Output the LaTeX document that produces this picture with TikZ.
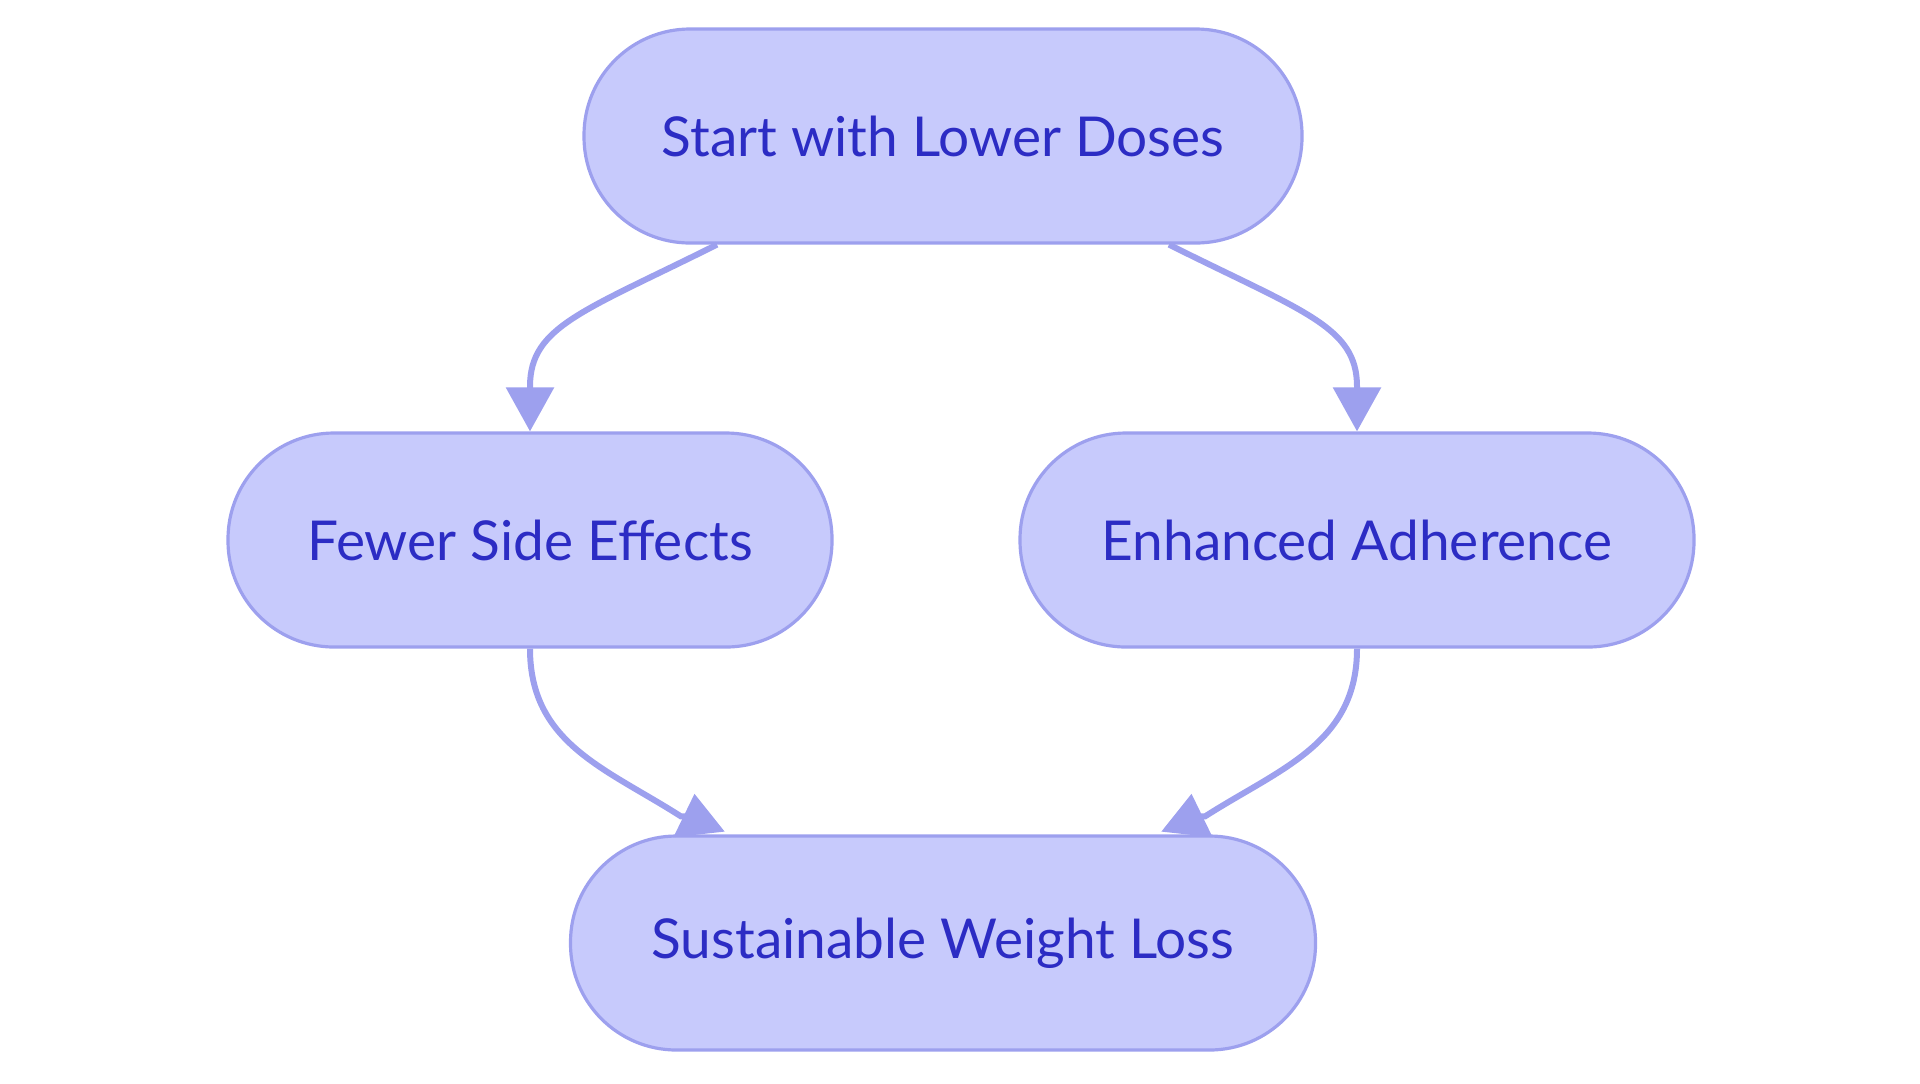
\documentclass[tikz,border=0pt]{standalone}
\usepackage{fontspec}
\setmainfont{Lato}
\usetikzlibrary{arrows.meta}
\definecolor{pillfill}{RGB}{199,202,252}
\definecolor{pillline}{RGB}{157,160,238}
\definecolor{pilltext}{RGB}{44,44,196}
\tikzset{
  pill/.style={rectangle, rounded corners=53pt, draw=pillline, line width=1.6pt,
    fill=pillfill, text=pilltext, minimum height=107pt,
    font=\fontsize{27.5}{32}\selectfont},
  flow/.style={draw=pillline, line width=3pt, -{Triangle[length=22pt,width=23.5pt]}},
  backflow/.style={draw=pillline, line width=3pt, -{Triangle[reversed,length=20.5pt,width=25pt]}}
}
\begin{document}
\begin{tikzpicture}[x=0.5pt, y=-0.5pt]
    \useasboundingbox (0,0) rectangle (1920,1083);
    \node [pill, minimum width=359pt] (start) at (943,136) {Start with Lower Doses};
    \node [pill, minimum width=302pt] (fewer) at (530,540) {Fewer Side Effects};
    \node [pill, minimum width=337pt] (adher) at (1357,540) {Enhanced Adherence};
    \node [pill, minimum width=372.5pt] (loss) at (943,943) {Sustainable Weight Loss};
    % down to the two effects
    \draw [flow] ([xshift=-113pt]start.south) .. controls +(-134,67) and +(0,-60) .. ([yshift=22.5pt]fewer.north) -- (fewer.north);
    \draw [flow] ([xshift=113pt]start.south) .. controls +(134,67) and +(0,-60) .. ([yshift=22.5pt]adher.north) -- (adher.north);
    % and on to the result
    \draw [backflow] (fewer.south) .. controls +(0,95) and +(-75,-48) .. ([xshift=-131pt,yshift=9pt]loss.north) .. controls ([xshift=-123pt,yshift=9pt]loss.north) .. ([xshift=-122pt]loss.north);
    \draw [backflow] (adher.south) .. controls +(0,95) and +(75,-48) .. ([xshift=131pt,yshift=9pt]loss.north) .. controls ([xshift=123pt,yshift=9pt]loss.north) .. ([xshift=122pt]loss.north);
\end{tikzpicture}
\end{document}
